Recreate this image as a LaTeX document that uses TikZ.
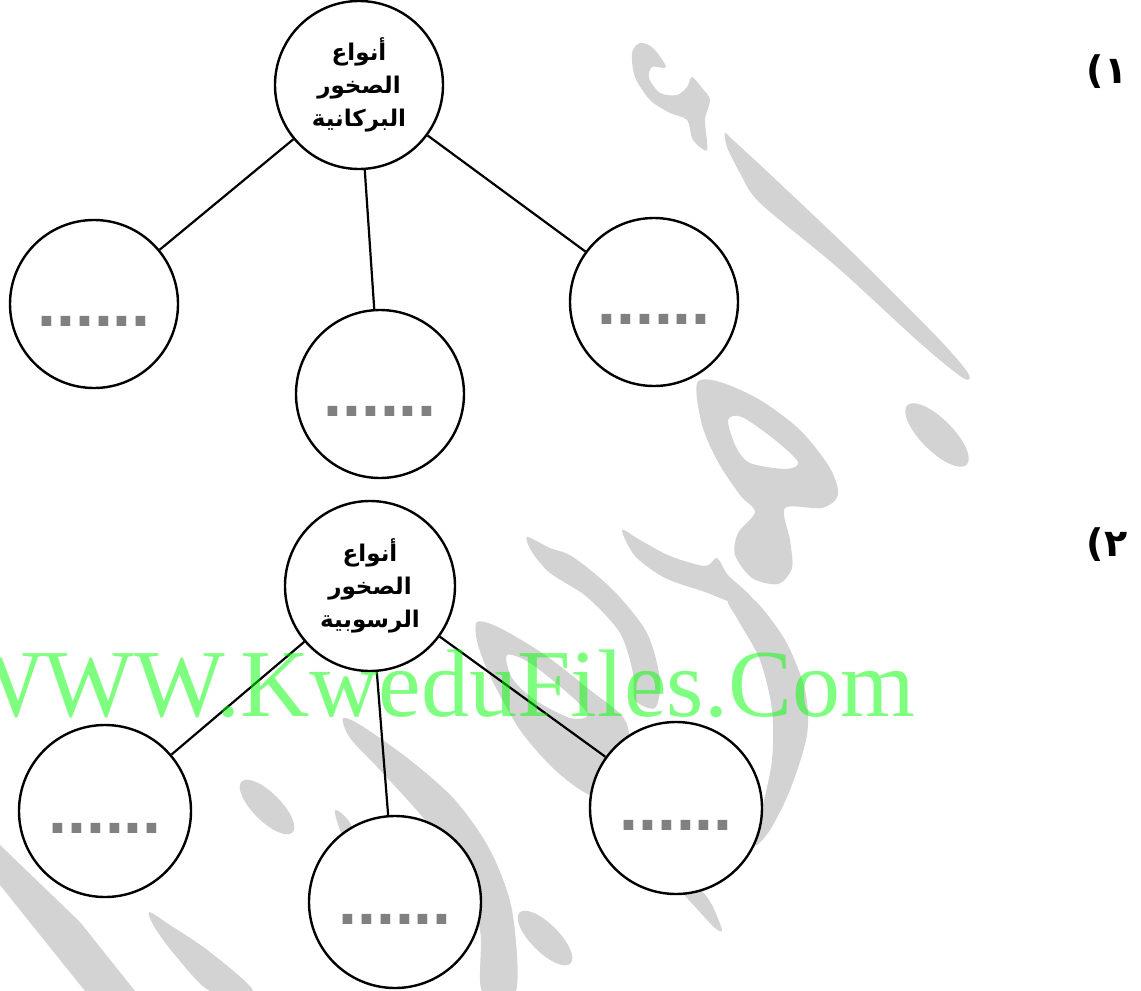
\documentclass[tikz,border=0pt]{standalone}
\usepackage{fontspec}
\usepackage{tikz}
\usetikzlibrary{positioning}
\TeXXeTstate=1
\newfontfamily\arabicfont[Script=Arabic]{DejaVu Sans}
\newfontfamily\dotsfont{Liberation Sans}
\newfontfamily\sitefont{Liberation Serif}
\newcommand{\artext}[1]{\beginR #1\endR}
\definecolor{wmgray}{RGB}{211,211,211}
\definecolor{dotgray}{RGB}{128,128,128}
\tikzset {
  tree node/.style = {
    draw = black,
    circle,
    line width = 2.4pt,
    fill = white,
    inner sep = 0
  },
  % title of a tree
  rootnode/.style = {
    tree node,
    minimum size = #1,
    align = center,
    font = \arabicfont\bfseries\fontsize{23}{33}\selectfont
  },
  % empty node to fill in
  blanknode/.style = {
    tree node,
    minimum size = #1,
    text = dotgray,
    text height = 44pt,
    text depth = 0pt,
    font = \dotsfont\bfseries\fontsize{68}{68}\selectfont
  },
  treeline/.style = {
    draw = black,
    line width = 2.2pt
  },
  numlabel/.style = {
    font = \arabicfont\bfseries\fontsize{38}{38}\selectfont,
    inner sep = 0
  },
  sitename/.style = {
    anchor = base west,
    inner sep = 0,
    text = green,
    text opacity = 0.5,
    font = \sitefont\fontsize{96}{96}\selectfont
  },
  wmark/.style = {
    fill = wmgray
  }
}

\begin{document}
\begin{tikzpicture}[x = 1pt, y = -1pt]
  \useasboundingbox (0,0) rectangle (1141,991);

  % watermark
  \fill[wmark] plot[smooth cycle] coordinates {(632,53) (640,43) (653,48) (666,67) (652,67) (649,78) (660,93) (677,95) (687,87) (692,77) (702,88) (710,100) (705,120) (707,150) (693,140) (687,120) (670,113) (650,100) (635,77)};
  \fill[wmark] plot[smooth cycle] coordinates {(725,133) (733,140) (773,177) (853,253) (937,337) (968,373) (963,378) (920,343) (837,267) (760,203) (740,173) (727,147)};
  \fill[wmark, rotate around = {-45:(937,435)}] (937,435) ellipse [x radius = 42, y radius = 16];
  \fill[wmark, even odd rule] plot[smooth cycle] coordinates {(697,383) (720,382) (760,400) (800,430) (830,468) (838,495) (822,508) (785,508) (790,540) (792,568) (778,584) (752,578) (735,555) (738,533) (755,512) (740,495) (718,462) (702,425)}
    plot[smooth cycle] coordinates {(728,420) (742,417) (775,440) (798,462) (786,469) (750,463) (736,447)};
  \fill[wmark] plot[smooth cycle] coordinates {(622,530) (640,540) (670,556) (705,566) (717,558) (728,575) (752,598) (740,605) (705,592) (665,578) (635,556)};
  \fill[wmark] plot[smooth cycle] coordinates {(728,600) (752,598) (785,640) (805,690) (807,735) (790,790) (770,830) (755,845) (762,810) (772,760) (772,710) (760,660) (738,620)};
  \fill[wmark] plot[smooth cycle] coordinates {(680,888) (700,890) (712,905) (722,930) (715,928) (698,910)};
  \fill[wmark] plot[smooth cycle] coordinates {(527,537) (550,548) (573,557) (613,590) (647,633) (660,680) (655,708) (635,700) (633,673) (620,633) (587,597) (550,573) (532,552)};
  \fill[wmark, even odd rule] plot[smooth cycle] coordinates {(477,622) (500,628) (545,655) (590,690) (625,720) (630,760) (615,790) (590,795) (555,770) (520,730) (492,680) (478,645)}
    plot[smooth cycle] coordinates {(507,655) (530,663) (570,695) (588,715) (570,718) (535,700) (512,678)};
  \fill[wmark] plot[smooth cycle] coordinates {(343,718) (362,726) (410,760) (455,800) (490,850) (512,910) (516,991) (482,991) (480,930) (460,870) (425,820) (380,770) (350,738)};
  \fill[wmark] plot[smooth cycle] coordinates {(335,810) (348,820) (360,845) (352,852) (340,830)};
  \fill[wmark] (0,845) -- (80,922) -- (135,991) -- (85,991) -- (40,935) -- (0,885) -- cycle;
  \fill[wmark] plot[smooth cycle] coordinates {(149,912) (170,925) (210,952) (253,991) (210,991) (175,955) (155,928)};
  \fill[wmark, rotate around = {-45:(267,807)}] (267,807) ellipse [x radius = 36, y radius = 14];
  \fill[wmark, rotate around = {-45:(545,938)}] (545,938) ellipse [x radius = 36, y radius = 14];

  % tree 1
  \node[rootnode = 168pt] (igneous) at (359,85) {\artext{أنواع}\\\artext{الصخور}\\\artext{البركانية}};
  \node[blanknode = 168pt] (igneous-left) at (94,304) {......};
  \node[blanknode = 168pt] (igneous-mid) at (380,394) {......};
  \node[blanknode = 168pt] (igneous-right) at (654,302) {......};
  \node[numlabel] (num-1) at (1107,72) {\artext{١)}};

  \draw[treeline] (igneous) -- (igneous-left);
  \draw[treeline] (igneous) -- (igneous-mid);
  \draw[treeline] (igneous) -- (igneous-right);

  % tree 2
  \node[rootnode = 170pt] (sedimentary) at (370,586) {\artext{أنواع}\\\artext{الصخور}\\\artext{الرسوبية}};
  \node[blanknode = 172pt] (sedimentary-left) at (105,811) {......};
  \node[blanknode = 172pt] (sedimentary-mid) at (395,902) {......};
  \node[blanknode = 172pt] (sedimentary-right) at (676,808) {......};
  \node[numlabel] (num-2) at (1107,545) {\artext{٢)}};

  \draw[treeline] (sedimentary) -- (sedimentary-left);
  \draw[treeline] (sedimentary) -- (sedimentary-mid);
  \draw[treeline] (sedimentary) -- (sedimentary-right);

  \node[sitename] (site) at (-47,716) {WWW.KweduFiles.Com};
\end{tikzpicture}
\end{document}
